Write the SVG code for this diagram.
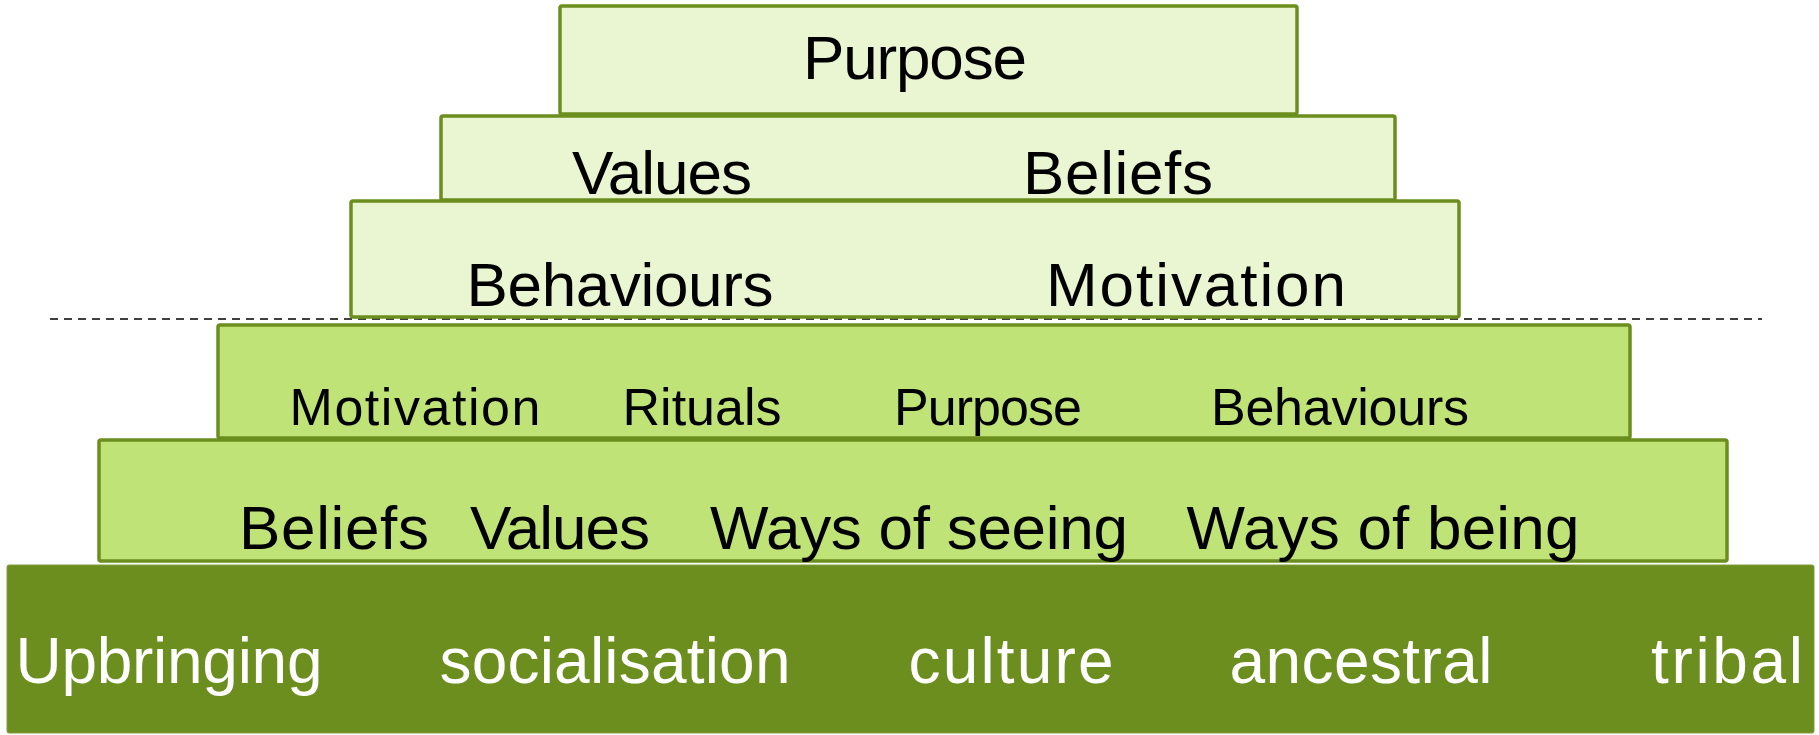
<svg xmlns="http://www.w3.org/2000/svg" width="1819" height="735" viewBox="0 0 1819 735">
<style>
.light{fill:#EAF5D2;stroke:#6B8E1E;stroke-width:3.5}
.mid{fill:#C0E377;stroke:#6B8E1E;stroke-width:3.5}
.dark{fill:#6B8E1E;stroke:#7E9E3A;stroke-width:1}
text{font-family:"Liberation Sans",Arial,sans-serif;text-anchor:middle}
.b{font-size:62px;fill:#000}
.s{font-size:52px;fill:#000}
.w{font-size:64px;fill:#fff}
.dash{stroke:#000;stroke-width:1.5;stroke-dasharray:8 6;fill:none}
</style>
<g id="connectors">
<line class="dash" x1="50" y1="319" x2="1762" y2="319"/>
</g>
<g id="purpose-level">
<rect class="light" x="560" y="6" width="737" height="108" rx="2"/>
<text class="b" x="915" y="79" textLength="224">Purpose</text>
</g>
<g id="values-beliefs-level">
<rect class="light" x="441" y="116" width="954" height="84" rx="2"/>
<text class="b" x="662" y="194" textLength="180">Values</text>
<text class="b" x="1118" y="194" textLength="190">Beliefs</text>
</g>
<g id="behaviours-motivation-level">
<rect class="light" x="351" y="201" width="1108" height="116" rx="2"/>
<text class="b" x="620" y="306" textLength="307">Behaviours</text>
<text class="b" x="1196" y="306" textLength="300">Motivation</text>
</g>
<g id="mid-level">
<rect class="mid" x="218" y="325" width="1412" height="113" rx="2"/>
<text class="s" x="415" y="425" textLength="251">Motivation</text>
<text class="s" x="702" y="425" textLength="159">Rituals</text>
<text class="s" x="988" y="425" textLength="188">Purpose</text>
<text class="s" x="1340" y="425" textLength="258">Behaviours</text>
</g>
<g id="lower-level">
<rect class="mid" x="99" y="440" width="1628" height="121" rx="2"/>
<text class="b" x="334" y="549" textLength="190">Beliefs</text>
<text class="b" x="560" y="549" textLength="180">Values</text>
<text class="b" x="919" y="549" textLength="418">Ways of seeing</text>
<text class="b" x="1383" y="549" textLength="393">Ways of being</text>
</g>
<g id="base-level">
<rect class="dark" x="7" y="565" width="1807" height="168" rx="2"/>
<text class="w" x="169" y="683" textLength="307">Upbringing</text>
<text class="w" x="615" y="683" textLength="351">socialisation</text>
<text class="w" x="1011" y="683" textLength="205">culture</text>
<text class="w" x="1361" y="683" textLength="263">ancestral</text>
<text class="w" x="1727" y="683" textLength="152">tribal</text>
</g>
</svg>
